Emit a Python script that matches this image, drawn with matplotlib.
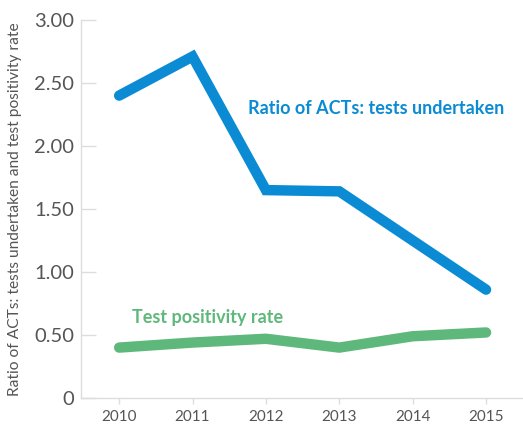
import matplotlib
matplotlib.use("Agg")
import matplotlib.pyplot as plt

years = [2010, 2011, 2012, 2013, 2014, 2015]
ratio_acts = [2.40, 2.71, 1.65, 1.64, 1.25, 0.86]
positivity = [0.40, 0.44, 0.47, 0.40, 0.49, 0.52]
yticks = [0, 0.5, 1.0, 1.5, 2.0, 2.5, 3.0]
ytick_labels = ["0", "0.50", "1.00", "1.50", "2.00", "2.50", "3.00"]

plt.rcParams['font.family'] = ['Lato', 'DejaVu Sans']

fig = plt.figure(figsize=(5.23, 4.25), dpi=100)
ax = fig.add_axes([81/523, 1-398/425, (522-81)/523, (398-20)/425])

blue = '#0a8bd3'
green = '#5fb87b'
ax.plot(years, ratio_acts, color=blue, lw=7.5, solid_capstyle='round', solid_joinstyle='miter')
ax.plot(years, positivity, color=green, lw=7.5, solid_capstyle='round', solid_joinstyle='miter')

ax.set_xlim(2009.48, 2015.49)
ax.set_ylim(0, 3.0)
ax.set_xticks(years)
ax.set_xticklabels([str(y) for y in years])
ax.set_yticks(yticks)
ax.set_yticklabels(ytick_labels)

for s in ['top', 'right']:
    ax.spines[s].set_visible(False)
for s in ['left', 'bottom']:
    ax.spines[s].set_color('#dddddd')
    ax.spines[s].set_linewidth(1.0)

ax.tick_params(axis='y', direction='in', length=11, width=1, color='#dddddd',
               labelsize=14.5, labelcolor='#555555', pad=5)
ax.tick_params(axis='x', direction='out', length=4.5, width=1, color='#dddddd',
               labelsize=11, labelcolor='#555555', pad=4)

ax.set_ylabel('Ratio of ACTs: tests undertaken and test positivity rate',
              fontsize=11.2, color='#555555', labelpad=9)

ax.text(2011.75, 2.30, 'Ratio of ACTs: tests undertaken', color=blue,
        fontsize=13, fontweight='bold', ha='left', va='center')
ax.text(2010.18, 0.64, 'Test positivity rate', color=green,
        fontsize=13, fontweight='bold', ha='left', va='center')

fig.savefig('out.png', dpi=100)
